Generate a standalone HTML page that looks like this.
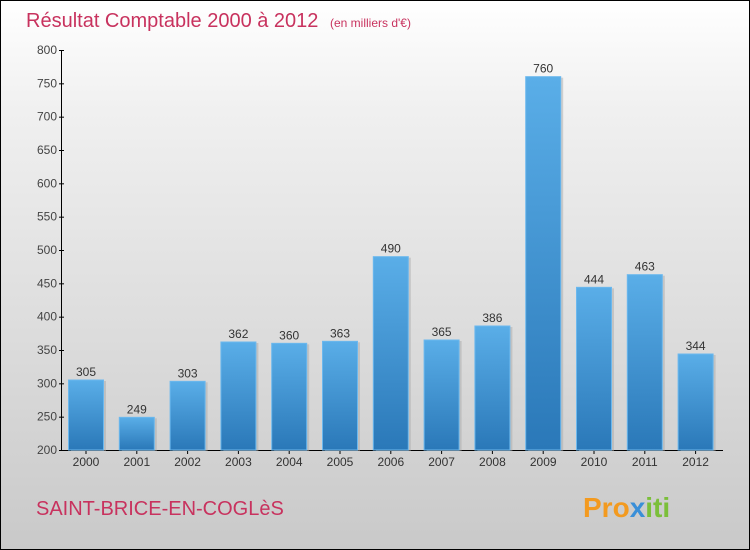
<!DOCTYPE html>
<html><head><meta charset="utf-8"><style>
body{margin:0;}
#wrap{width:748px;height:548px;border:1px solid #000;background:linear-gradient(#fff,#f0f0f0 20%,#c9c9c9);position:relative;overflow:hidden;font-family:"Liberation Sans",sans-serif;}
svg{position:absolute;left:0;top:0}
</style></head><body>
<div id="wrap">
<svg id="chart" width="748" height="548">
<defs>
<linearGradient id="bg" x1="0" y1="0" x2="0" y2="1"><stop offset="0" stop-color="#5aaee8"/><stop offset="1" stop-color="#2a78b8"/></linearGradient>
</defs>
<text x="25" y="26" font-size="20" fill="#c8325e">Résultat Comptable 2000 à 2012 <tspan font-size="12" dx="6">(en milliers d'€)</tspan></text>
<text x="35" y="514" font-size="20" fill="#c8325e">SAINT-BRICE-EN-COGLèS</text>
<text x="582" y="516" font-size="28" font-weight="bold" fill="#f39a1f">Pro<tspan fill="#3a8fd8">x</tspan><tspan fill="#7bbf3a">iti</tspan></text>
<g id="axes"></g>
<g id="bars"></g>
</svg>
</div>
<script>
const years=["2000","2001","2002","2003","2004","2005","2006","2007","2008","2009","2010","2011","2012"];
const values=[305,249,303,362,360,363,490,365,386,760,444,463,344];
const ticks=[200,250,300,350,400,450,500,550,600,650,700,750,800];
const NS="http://www.w3.org/2000/svg";
const y0=449,yTop=49,vmin=200,vmax=800;
function yScale(v){return y0-(v-vmin)/(vmax-vmin)*(y0-yTop);}
function xScale(i){return 85+i*50.8;}
function mk(t,a,p){const e=document.createElementNS(NS,t);for(const k in a)e.setAttribute(k,a[k]);p.appendChild(e);return e;}
const ax=document.getElementById('axes'),bg=document.getElementById('bars');
const yl=mk('line',{x1:60.5,x2:60.5,y1:yTop,y2:y0,stroke:'#000'},ax);


const xl=mk('line',{x1:60,x2:722,y1:y0+0.5,y2:y0+0.5,stroke:'#000'},ax);


ticks.forEach(v=>{const y=yScale(v);
mk('line',{x1:58,x2:63,y1:y+0.5,y2:y+0.5,stroke:'#000'},ax);
const t=mk('text',{x:56,y:y+4,'font-size':12,fill:'#444','text-anchor':'end'},ax);t.textContent=v;

});
years.forEach((yr,i)=>{const cx=xScale(i),v=values[i],y=yScale(v);
mk('rect',{x:cx-17+2,y:y+1,width:35,height:y0-y,fill:'#aaa',opacity:0.5},bg);
const r=mk('rect',{x:cx-17.5,y:y,width:35,height:y0-y,fill:'url(#bg)',stroke:'#6bb8ee','stroke-width':1},bg);


const vl=mk('text',{x:cx,y:y-4,'font-size':12,fill:'#333','text-anchor':'middle'},bg);vl.textContent=v;


mk('line',{x1:cx,x2:cx,y1:y0,y2:y0+4,stroke:'#000'},ax);
const xt=mk('text',{x:cx,y:y0+16,'font-size':12,fill:'#333','text-anchor':'middle'},ax);xt.textContent=yr;

});
</script>
</body></html>
